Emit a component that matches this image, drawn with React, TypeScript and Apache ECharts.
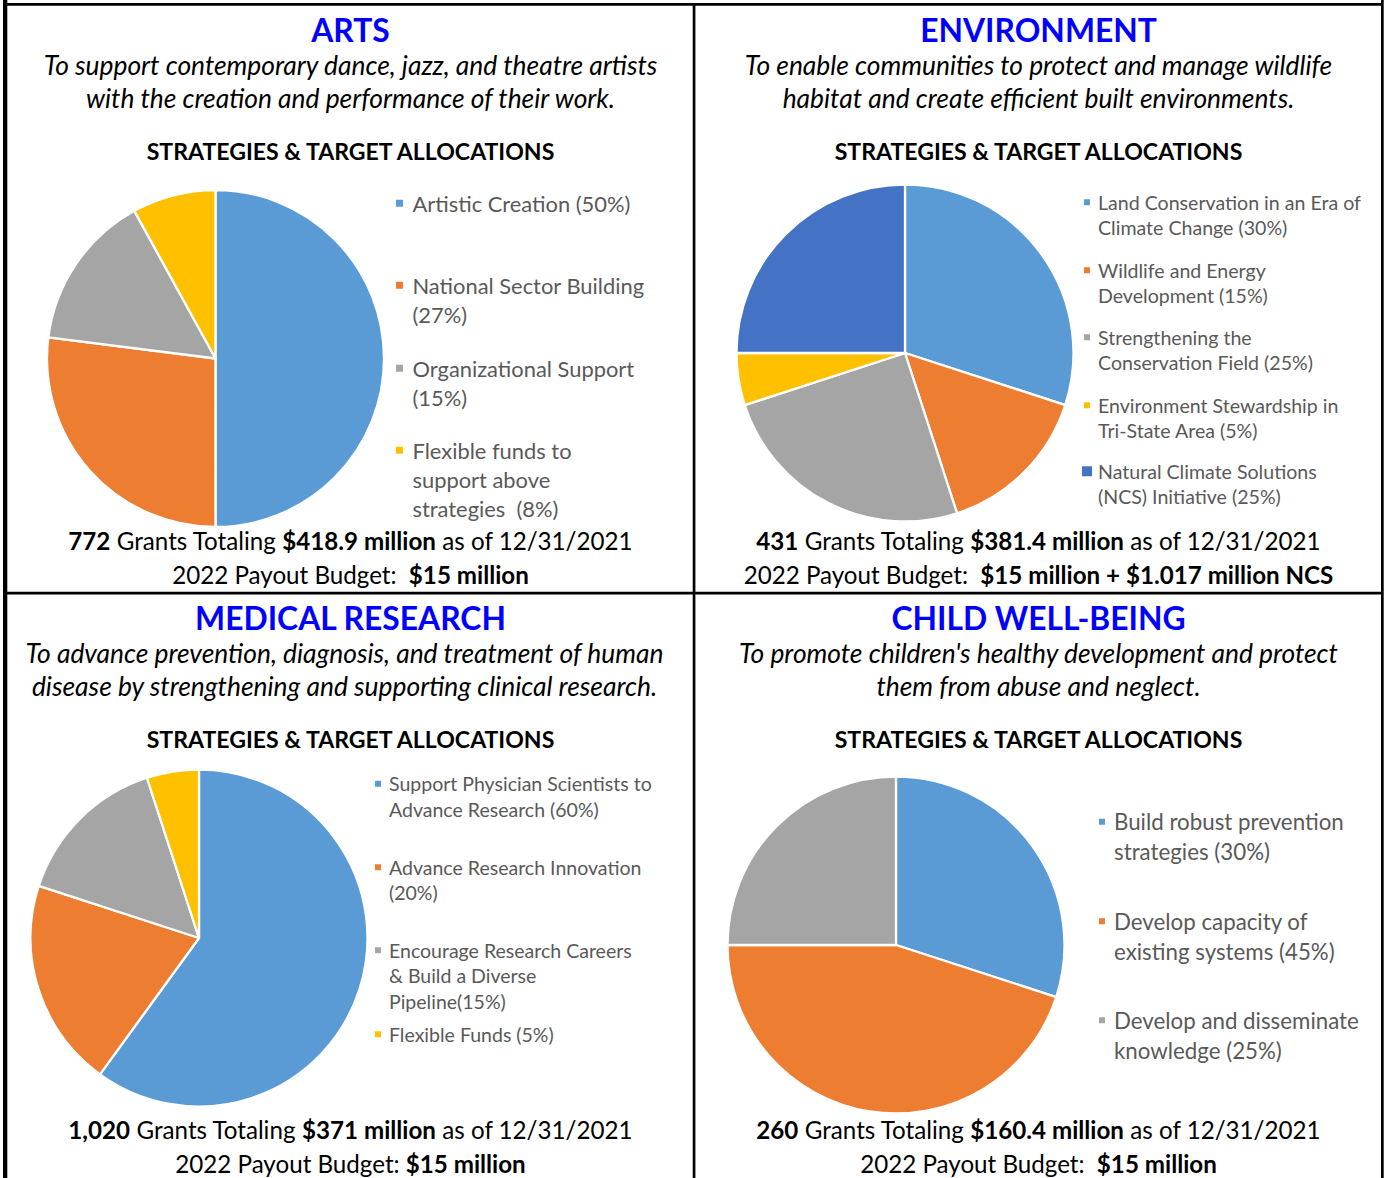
import React, { useEffect, useRef } from "react";
import * as echarts from "echarts";

// ---------------- DATA ----------------
const artsNames = [
  "Artistic Creation (50%)",
  "National Sector Building\n(27%)",
  "Organizational Support\n(15%)",
  "Flexible funds to\nsupport above\nstrategies  (8%)",
];
const artsValues = [50, 27, 15, 8];

const envNames = [
  "Land Conservation in an Era of\nClimate Change (30%)",
  "Wildlife and Energy\nDevelopment (15%)",
  "Strengthening the\nConservation Field (25%)",
  "Environment Stewardship in\nTri-State Area (5%)",
  "Natural Climate Solutions\n(NCS) Initiative (25%)",
];
const envValues = [30, 15, 25, 5, 25];

const medNames = [
  "Support Physician Scientists to\nAdvance Research (60%)",
  "Advance Research Innovation\n(20%)",
  "Encourage Research Careers\n& Build a Diverse\nPipeline(15%)",
  "Flexible Funds (5%)",
];
const medValues = [60, 20, 15, 5];

const childNames = [
  "Build robust prevention\nstrategies (30%)",
  "Develop capacity of\nexisting systems (45%)",
  "Develop and disseminate\nknowledge (25%)",
];
const childValues = [30, 45, 25];

const titles = ["ARTS", "ENVIRONMENT", "MEDICAL RESEARCH", "CHILD WELL-BEING"];
const missions = [
  ["To support contemporary dance, jazz, and theatre artists", "with the creation and performance of their work."],
  ["To enable communities to protect and manage wildlife", "habitat and create efficient built environments."],
  ["To advance prevention, diagnosis, and treatment of human", "disease by strengthening and supporting clinical research."],
  ["To promote children's healthy development and protect", "them from abuse and neglect."],
];
const sectionHeading = "STRATEGIES & TARGET ALLOCATIONS";
const grantCounts = ["772", "431", "1,020", "260"];
const grantTotals = ["$418.9 million", "$381.4 million", "$371 million", "$160.4 million"];
const asOfDate = "12/31/2021";
const payoutPrefixes = ["2022 Payout Budget:  ", "2022 Payout Budget:  ", "2022 Payout Budget: ", "2022 Payout Budget:  "];
const payoutBudgets = ["$15 million", "$15 million + $1.017 million NCS", "$15 million", "$15 million"];

// ---------------- STYLE ----------------
const FONT = "Lato, 'Noto Sans', sans-serif";
const C_BLUE = "#5B9BD5";
const C_ORANGE = "#ED7D31";
const C_GRAY = "#A5A5A5";
const C_YELLOW = "#FFC000";
const C_DKBLUE = "#4472C4";
const TITLE_COLOR = "#0000FF";
const LEGEND_COLOR = "#595959";

let _ctx: CanvasRenderingContext2D | null = null;
function measure(text: string, size: number, weight: string, italic: boolean) {
  if (!_ctx) _ctx = document.createElement("canvas").getContext("2d");
  _ctx!.font = `${italic ? "italic " : ""}${weight} ${size}px ${FONT}`;
  return _ctx!.measureText(text).width;
}
function fit(segs: [string, boolean][], target: number, italic = false) {
  let w = 0;
  for (const [t, b] of segs) w += measure(t, 100, b ? "bold" : "normal", italic);
  return (100 * target) / w;
}

function buildOption() {
  const titleSize = fit([["MEDICAL RESEARCH", true]], 312);
  const missionSize = fit([["To advance prevention, diagnosis, and treatment of human", false]], 639, true);
  const headSize = fit([[sectionHeading, true]], 410);
  const bottomSize = fit(
    [
      ["772", true],
      [" Grants Totaling ", false],
      ["$418.9 million", true],
      [" as of 12/31/2021", false],
    ],
    565
  );

  const panels = [
    {
      cx: 350.5, mcx: 350.5, top: 0, pie: [215.5, 358.5], names: artsNames, values: artsValues,
      colors: [C_BLUE, C_ORANGE, C_GRAY, C_YELLOW],
      lx: 394, ys: [204, 286, 369, 451], L: 29.2, icon: 9, tx: 411.5,
      fitLine: "Artistic Creation (50%)", fitW: 218,
    },
    {
      cx: 1038.5, mcx: 1038.5, top: 0, pie: [905, 353], names: envNames, values: envValues,
      colors: [C_BLUE, C_ORANGE, C_GRAY, C_YELLOW, C_DKBLUE],
      lx: 1082, ys: [203, 271, 338, 406, 472], L: 25.7, icon: 8, tx: 1097,
      fitLine: "Land Conservation in an Era of", fitW: 263,
    },
    {
      cx: 350.5, mcx: 344.5, top: 588, pie: [199, 938], names: medNames, values: medValues,
      colors: [C_BLUE, C_ORANGE, C_GRAY, C_YELLOW],
      lx: 373, ys: [784.5, 868, 951, 1035], L: 25.7, icon: 8, tx: 388,
      fitLine: "Support Physician Scientists to", fitW: 263,
    },
    {
      cx: 1038.5, mcx: 1038.5, top: 588, pie: [896, 945], names: childNames, values: childValues,
      colors: [C_BLUE, C_ORANGE, C_GRAY],
      lx: 1097, ys: [822.5, 922, 1021], L: 30, icon: 8, tx: 1113,
      fitLine: "Develop and disseminate", fitW: 245,
    },
  ];

  const series: any[] = [];
  const legends: any[] = [];
  const graphics: any[] = [];

  // grid lines
  const black = { fill: "#000" };
  graphics.push({ type: "rect", shape: { x: 3, y: 0, width: 4.3, height: 1178 }, style: black, silent: true });
  graphics.push({ type: "rect", shape: { x: 1381, y: 0, width: 2.7, height: 1178 }, style: black, silent: true });
  graphics.push({ type: "rect", shape: { x: 3, y: 3, width: 1380, height: 2.7 }, style: black, silent: true });
  graphics.push({ type: "rect", shape: { x: 692.7, y: 3, width: 2.7, height: 1175 }, style: black, silent: true });
  graphics.push({ type: "rect", shape: { x: 3, y: 591.7, width: 1380, height: 2.7 }, style: black, silent: true });

  panels.forEach((p, i) => {
    const dy = p.top;
    const baseText = { fontFamily: FONT, align: "center", verticalAlign: "middle", fill: "#000" };
    graphics.push({
      type: "text", x: p.cx, y: 29.5 + dy, silent: true,
      style: { ...baseText, text: titles[i], fontSize: titleSize, fontWeight: "bold", fill: TITLE_COLOR },
    });
    missions[i].forEach((line, k) => {
      graphics.push({
        type: "text", x: p.mcx, y: 65 + k * 32.8 + dy, silent: true,
        style: { ...baseText, text: line, fontSize: missionSize, fontStyle: "italic" },
      });
    });
    graphics.push({
      type: "text", x: p.cx, y: 151 + dy + (i >= 2 ? -0.5 : 0), silent: true,
      style: { ...baseText, text: sectionHeading, fontSize: headSize, fontWeight: "bold" },
    });
    const rich = { b: { fontSize: bottomSize, fontFamily: FONT, fontWeight: "bold", fill: "#000" } };
    graphics.push({
      type: "text", x: p.cx, y: 540 + dy + (i >= 2 ? 1 : 0), silent: true,
      style: {
        ...baseText, fontSize: bottomSize, rich,
        text: `{b|${grantCounts[i]}} Grants Totaling {b|${grantTotals[i]}} as of ${asOfDate}`,
      },
    });
    graphics.push({
      type: "text", x: p.cx, y: 574 + dy + (i >= 2 ? 1 : 0), silent: true,
      style: { ...baseText, fontSize: bottomSize, rich, text: `${payoutPrefixes[i]}{b|${payoutBudgets[i]}}` },
    });

    series.push({
      type: "pie",
      center: p.pie,
      radius: 168.5,
      startAngle: 90,
      clockwise: true,
      silent: true,
      label: { show: false },
      labelLine: { show: false },
      emphasis: { disabled: true },
      itemStyle: { borderColor: "#fff", borderWidth: 2.3 },
      data: p.names.map((n, k) => ({ name: n, value: p.values[k], itemStyle: { color: p.colors[k] } })),
    });

    const lfs = fit([[p.fitLine, false]], p.fitW);
    p.names.forEach((n, k) => {
      const lines = n.split("\n").length;
      const big = i === 1 && k === 4;
      const icon = big ? 12 : p.icon;
      const lx = big ? 1080 : p.lx;
      const pad = Math.max(0, p.tx - lx - icon - 5);
      const blockH = (2 * lines - 1) * p.L;
      legends.push({
        data: [n],
        left: lx,
        top: p.ys[k] - 0.8 - Math.max(blockH, icon) / 2,
        orient: "vertical",
        padding: 0,
        itemGap: 0,
        itemWidth: icon,
        itemHeight: icon,
        icon: "rect",
        selectedMode: false,
        formatter: (name: string) => "\n".repeat(lines - 1) + name,
        textStyle: {
          fontFamily: FONT,
          fontSize: lfs,
          lineHeight: p.L,
          color: LEGEND_COLOR,
          padding: [0, 0, 0, pad],
        },
      });
    });
  });

  return {
    animation: false,
    backgroundColor: "#fff",
    legend: legends,
    series,
    graphic: { elements: graphics },
  };
}

export default function App() {
  const ref = useRef<HTMLDivElement>(null);
  useEffect(() => {
    if (!ref.current) return;
    const chart = echarts.init(ref.current, null, { renderer: "svg" });
    chart.setOption(buildOption() as any);
    return () => chart.dispose();
  }, []);
  return (
    <div
      ref={ref}
      style={{ position: "absolute", left: 0, top: 0, width: 1389, height: 1178, background: "#fff" }}
    />
  );
}
